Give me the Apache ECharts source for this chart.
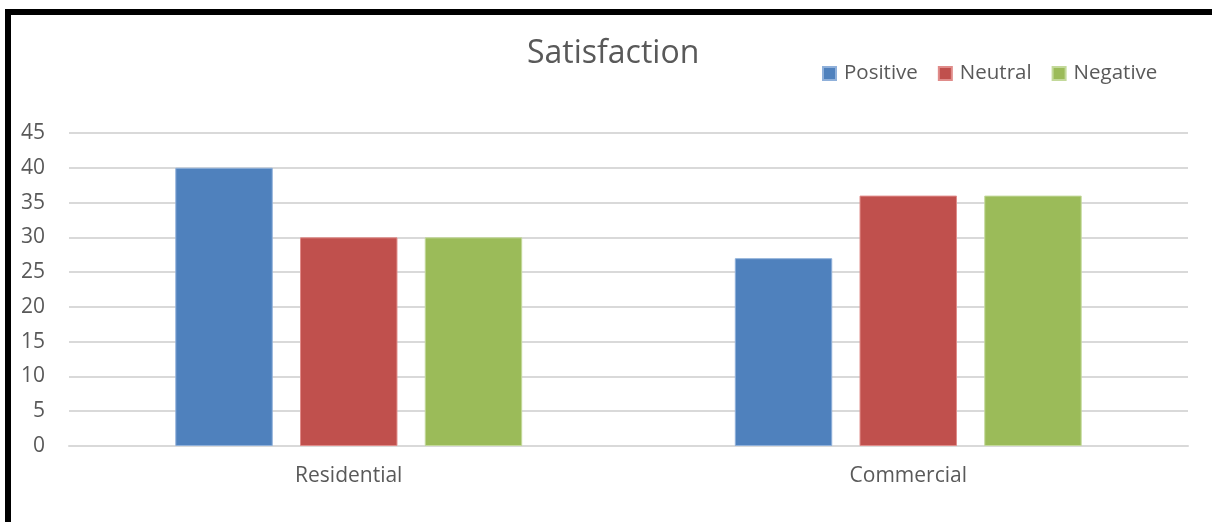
<!DOCTYPE html>
<html>
<head>
<meta charset="utf-8">
<script src="https://cdn.jsdelivr.net/npm/echarts@6/dist/echarts.min.js"></script>
<style>
html,body{margin:0;padding:0;background:#fff;}
#chart{width:1212px;height:522px;}
</style>
</head>
<body>
<div id="chart"></div>
<script>
const categories = ['Residential', 'Commercial'];
const seriesNames = ['Positive', 'Neutral', 'Negative'];
const positive = [40, 27];
const neutral = [30, 36];
const negative = [30, 36];
const colors = ['#4F81BD', '#C0504D', '#9BBB59'];
const borders = ['#8FB0DA', '#E08C8A', '#C3D99A'];
const font = 'Open Sans, Noto Sans, sans-serif';
const textColor = '#595959';

const chart = echarts.init(document.getElementById('chart'), null, {renderer: 'canvas'});
const values = [positive, neutral, negative];
chart.setOption({
  animation: false,
  color: colors,
  title: {
    text: 'Satisfaction',
    left: 522,
    top: 33,
    textStyle: {fontFamily: font, fontSize: 32, fontWeight: 'normal', color: textColor}
  },
  legend: {
    data: seriesNames,
    left: 817,
    top: 58,
    itemWidth: 13,
    itemHeight: 13,
    itemGap: 20,
    icon: 'rect',
    textStyle: {fontFamily: font, fontSize: 20.5, color: textColor, padding: [0, 0, 0, 3]}
  },
  grid: {left: 69, right: 24, top: 133, bottom: 76, containLabel: false},
  xAxis: {
    type: 'category',
    data: categories,
    axisLine: {show: true, lineStyle: {color: '#D9D9D9', width: 2}},
    axisTick: {show: false},
    axisLabel: {fontFamily: font, fontSize: 21, color: textColor, margin: 20}
  },
  yAxis: {
    type: 'value',
    min: 0,
    max: 45,
    interval: 5,
    axisLine: {show: false},
    axisTick: {show: false},
    splitLine: {lineStyle: {color: '#D9D9D9', width: 2}},
    axisLabel: {fontFamily: font, fontSize: 21, color: textColor, margin: 24}
  },
  graphic: [
    {type: 'rect', shape: {x: 5, y: 9, width: 1207, height: 6}, style: {fill: '#000'}},
    {type: 'rect', shape: {x: 5, y: 9, width: 6, height: 513}, style: {fill: '#000'}}
  ],
  series: seriesNames.map((n, i) => ({
    name: n,
    type: 'bar',
    data: values[i],
    barGap: '28%',
    barCategoryGap: '38%',
    itemStyle: {color: colors[i], borderColor: borders[i], borderWidth: 1}
  }))
});
</script>
</body>
</html>
